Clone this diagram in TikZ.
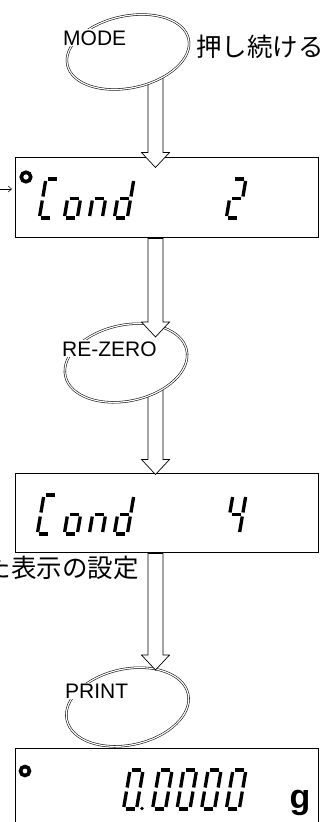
\documentclass[tikz,border=0pt]{standalone}
\usepackage{fontspec}
\setmainfont{Liberation Sans}
\newfontfamily\jpfont{Noto Sans CJK JP}
\usetikzlibrary{shapes.geometric,arrows.meta,calc}
\tikzset{
  dispbox/.style={draw, line width=1pt, minimum width=303pt, inner sep=0pt},
  keyell/.style={ellipse, draw, double, double distance=1.2pt, line width=0.55pt, fill=white, inner sep=0pt, rotate=12},
  keylabel/.style={font=\fontsize{21}{21}\selectfont, fill=white, inner sep=1pt, anchor=base west},
  jptext/.style={font=\jpfont\fontsize{25.5}{26}\selectfont, inner sep=0pt},
  arrowbody/.style={draw, line width=0.7pt, fill=white, line join=miter},
  lcdseg/.style={line width=3.3pt, line cap=butt},
  smallarr/.style={-{Straight Barb[length=3.5pt,width=6pt]}, line width=0.5pt, shorten >=2.5pt},
  dotring/.style={draw, line width=3.6pt},
}
\newcommand\lcda{\draw[lcdseg] (2,-39) -- (11,-39);}
\newcommand\lcdb{\draw[lcdseg] (13,-37) -- (13,-21.5);}
\newcommand\lcdc{\draw[lcdseg] (13,-17.5) -- (13,-2);}
\newcommand\lcdd{\draw[lcdseg] (2,0) -- (11,0);}
\newcommand\lcde{\draw[lcdseg] (0,-17.5) -- (0,-2);}
\newcommand\lcdf{\draw[lcdseg] (0,-37) -- (0,-21.5);}
\newcommand\lcdg{\draw[lcdseg] (2,-19.5) -- (11,-19.5);}
\newcommand\lcdchar[3]{\begin{scope}[shift={(#1,#2)},xslant=0.17]\foreach \s in {#3}{\csname lcd\s\endcsname}\end{scope}}
\newcommand\blockarrow[2]{\draw[arrowbody] let \p1=(#1), \p2=(#2) in
  (\x1-7.5pt,\y1) -- (\x1-7.5pt,\y2+15pt) -- (\x1-14pt,\y2+15pt) -- (\x2,\y2)
  -- (\x1+14pt,\y2+15pt) -- (\x1+7.5pt,\y2+15pt) -- (\x1+7.5pt,\y1) -- cycle;}
\begin{document}
\begin{tikzpicture}[x=1pt,y=-1pt]
\useasboundingbox (0,0) rectangle (326,822);
% display boxes
\node[dispbox, minimum height=80pt] (box1) at (166.5,197) {};
\node[dispbox, minimum height=79pt] (box2) at (166.5,512.5) {};
\node[dispbox, minimum height=100pt] (box3) at (166.5,798) {};
% key centres and arrow axis
\coordinate (ax) at (155.5,0);
\coordinate (mc) at (128,52);
\coordinate (rc) at (126,363);
\coordinate (pc) at (127.5,707);
\coordinate (t1) at ($(box1.north -| ax)+(0,11)$);
\coordinate (t3) at ($(box2.north -| ax)+(0,2)$);
\coordinate (s2) at ($(box1.south -| ax)+(0,1)$);
\coordinate (s4) at ($(box2.south -| ax)+(0,1)$);
\coordinate (t2) at (155.5,337);
\coordinate (t4) at (155.5,670);
% arrows that start inside a key
\blockarrow{mc -| ax}{t1}
\blockarrow{rc -| ax}{t3}
% keys
\node[keyell, minimum width=124pt, minimum height=72pt] (mode) at (mc) {};
\node[keyell, minimum width=124pt, minimum height=76pt] (rezero) at (rc) {};
\node[keyell, minimum width=124pt, minimum height=76pt] (print) at (pc) {};
\node[keylabel] (modelbl) at (62,45) {MODE};
\node[keylabel] (rezerolbl) at (61,356) {RE-ZERO};
\node[keylabel] (printlbl) at (64,698) {PRINT};
% arrows that end on a key
\blockarrow{s2}{t2}
\blockarrow{s4}{t4}
% texts
\node[jptext, anchor=base west] (hold) at (196,56) {押し続ける};
\node[jptext, anchor=base east] (note) at (139,577) {た表示の設定};
% small incoming arrow
\coordinate (lin) at (0,189);
\draw[smallarr] (lin) -- (lin -| box1.west);
% display 1
\node[dotring, circle, minimum size=9.5pt, inner sep=0pt] (dot1) at (26,177) {};
\lcdchar{39.3}{218}{a,d,e,f}
\lcdchar{64.3}{218}{c,d,e,g}
\lcdchar{89.3}{218}{c,e,g}
\lcdchar{114.3}{218}{b,c,d,e,g}
\lcdchar{226.3}{218}{a,b,g,e,d}
% display 2
\lcdchar{37.3}{534}{a,d,e,f}
\lcdchar{64.3}{534}{c,d,e,g}
\lcdchar{89.3}{534}{c,e,g}
\lcdchar{114.3}{534}{b,c,d,e,g}
\lcdchar{226.3}{534}{f,g,b,c}
% display 3
\node[dotring, circle, minimum size=9pt, inner sep=0pt] (dot3) at (25,771) {};
\lcdchar{123.5}{809}{a,b,c,d,e,f}
\fill (142,808.5) circle (1.9pt);
\lcdchar{152.5}{809}{a,b,c,d,e,f}
\lcdchar{177}{809}{a,b,c,d,e,f}
\lcdchar{201.5}{809}{a,b,c,d,e,f}
\lcdchar{226.3}{809}{a,b,c,d,e,f}
\node[font=\bfseries\fontsize{34}{34}\selectfont, anchor=base, inner sep=0pt] (unit) at (300,808) {g};
\end{tikzpicture}
\end{document}
